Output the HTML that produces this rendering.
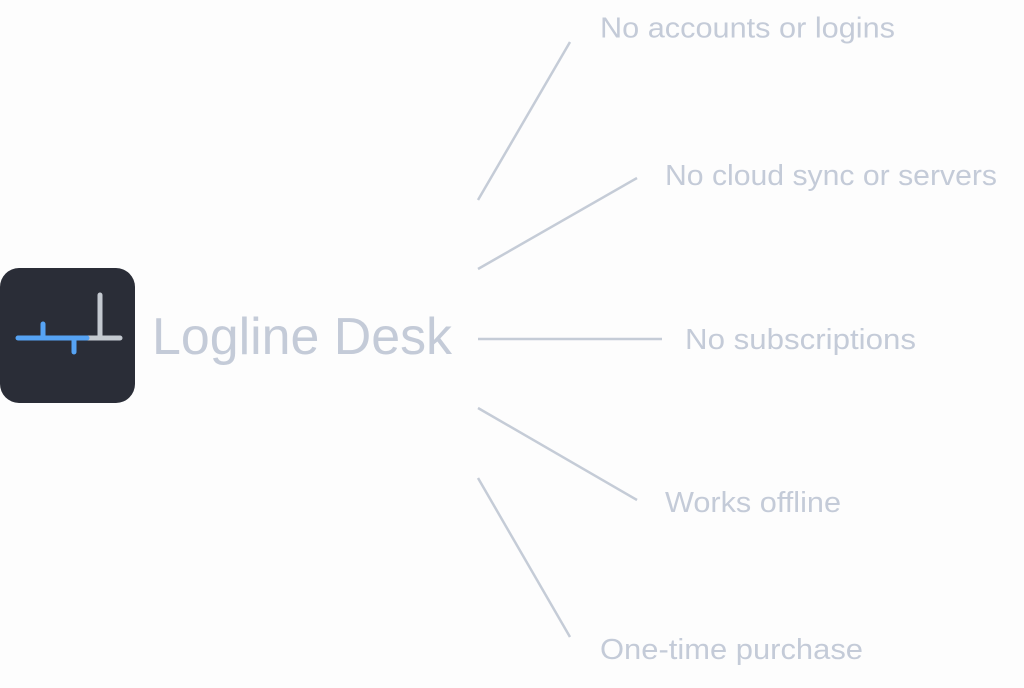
<!DOCTYPE html>
<html>
<head>
<meta charset="utf-8">
<style>
html,body{margin:0;padding:0;background:#fdfdfd;}
svg{display:block;}
text{font-family:"Liberation Sans",Arial,sans-serif;fill:#c4cbd8;}
</style>
</head>
<body>
<svg width="1024" height="688" viewBox="0 0 1024 688" xmlns="http://www.w3.org/2000/svg">
  <rect width="1024" height="688" fill="#fdfdfd"/>
  <!-- icon -->
  <rect x="0" y="268" width="135" height="135" rx="19" ry="19" fill="#2a2d37"/>
  <g stroke-linecap="round" stroke-width="5" fill="none">
    <line x1="100" y1="295" x2="100" y2="338" stroke="#c4c9d0"/>
    <line x1="87" y1="338" x2="120" y2="338" stroke="#c4c9d0"/>
    <line x1="18" y1="338" x2="87" y2="338" stroke="#56a3f4"/>
    <line x1="43" y1="324" x2="43" y2="338" stroke="#56a3f4"/>
    <line x1="74" y1="338" x2="74" y2="352" stroke="#56a3f4"/>
  </g>
  <text x="152" y="354" font-size="52" textLength="300" lengthAdjust="spacingAndGlyphs">Logline Desk</text>
  <!-- connectors -->
  <g stroke="#c5ccd7" stroke-width="2.5" fill="none">
    <line x1="478" y1="200" x2="570" y2="42"/>
    <line x1="478" y1="269" x2="637" y2="178"/>
    <line x1="478" y1="339" x2="662" y2="339"/>
    <line x1="478" y1="408" x2="637" y2="500"/>
    <line x1="478" y1="478" x2="570" y2="637"/>
  </g>
  <text x="600" y="37.5" font-size="29" textLength="295" lengthAdjust="spacingAndGlyphs">No accounts or logins</text>
  <text x="665" y="185" font-size="29" textLength="332" lengthAdjust="spacingAndGlyphs">No cloud sync or servers</text>
  <text x="685" y="349" font-size="29" textLength="231" lengthAdjust="spacingAndGlyphs">No subscriptions</text>
  <text x="665" y="512" font-size="29" textLength="176" lengthAdjust="spacingAndGlyphs">Works offline</text>
  <text x="600" y="659" font-size="29" textLength="263" lengthAdjust="spacingAndGlyphs">One-time purchase</text>
</svg>
</body>
</html>
